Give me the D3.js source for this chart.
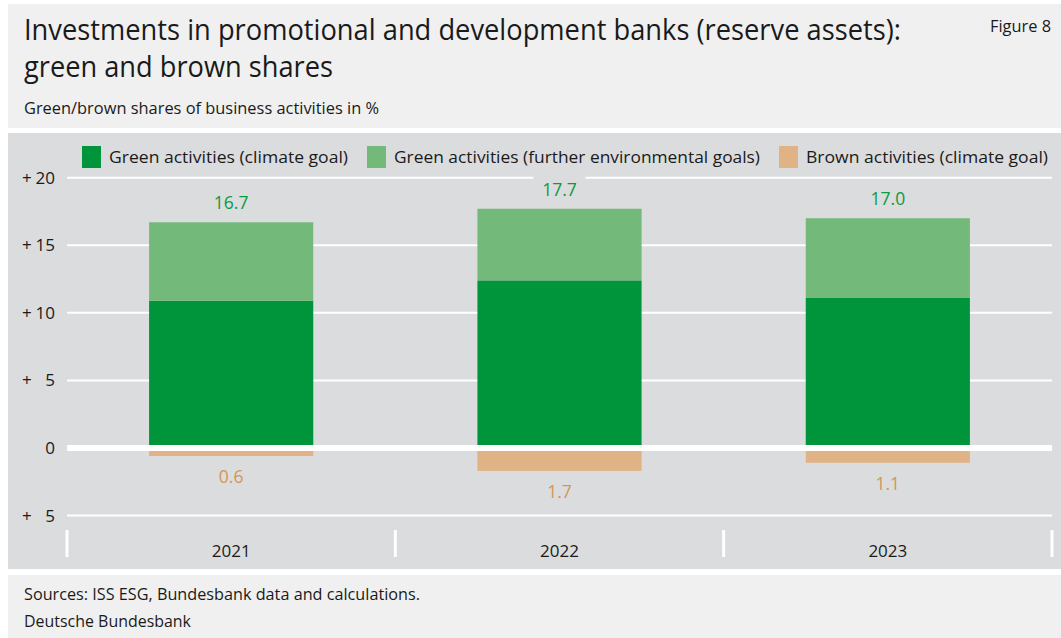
<!DOCTYPE html>
<html>
<head>
<meta charset="utf-8">
<script src="https://cdn.jsdelivr.net/npm/d3@7"></script>
<style>
  body { margin: 0; background: #fff; }
  svg text { font-family: "Open Sans", "Noto Sans", sans-serif; fill: #1a1a1a; }
</style>
</head>
<body>
<svg id="chart" width="1061" height="638"></svg>
<script>
// data
var years = ['2021', '2022', '2023'];
var greenClimate = [10.9, 12.4, 11.1];
var greenFurther = [5.8, 5.3, 5.9];
var greenTotal = [16.7, 17.7, 17.0];
var brownClimate = [0.6, 1.7, 1.1];
var yTicks = [20, 15, 10, 5, 0, -5];
var yTickLabels = ['20', '15', '10', '5', '0', '5'];
var legendLabels = ['Green activities (climate goal)', 'Green activities (further environmental goals)', 'Brown activities (climate goal)'];

var colors = {dark: '#00953a', light: '#72b97a', brown: '#e0b386', panel: '#dbdcde', box: '#f0f0f0',
              greenText: '#0b9a3e', brownText: '#d4955a'};

var svg = d3.select('#chart');

// background boxes
svg.append('rect').attr('x', 8).attr('y', 4).attr('width', 1053).attr('height', 124).attr('fill', colors.box);
svg.append('rect').attr('x', 8).attr('y', 133).attr('width', 1053).attr('height', 436).attr('fill', colors.panel);
svg.append('rect').attr('x', 8).attr('y', 575).attr('width', 1053).attr('height', 63).attr('fill', colors.box);

function fit(sel, w) {
    sel.attr('textLength', w).attr('lengthAdjust', 'spacingAndGlyphs');
    return sel;
}

// titles
fit(svg.append('text').attr('x', 24).attr('y', 40).style('font-size', '30px')
    .text('Investments in promotional and development banks (reserve assets):'), 877);
fit(svg.append('text').attr('x', 24).attr('y', 77).style('font-size', '30px')
    .text('green and brown shares'), 309);
fit(svg.append('text').attr('x', 1051).attr('y', 32).attr('text-anchor', 'end').style('font-size', '16px')
    .text('Figure 8'), 61);
fit(svg.append('text').attr('x', 24).attr('y', 114).style('font-size', '16px')
    .text('Green/brown shares of business activities in %'), 355);

// footer
fit(svg.append('text').attr('x', 24).attr('y', 600).style('font-size', '15.5px')
    .text('Sources: ISS ESG, Bundesbank data and calculations.'), 396);
fit(svg.append('text').attr('x', 24).attr('y', 627).style('font-size', '15.5px')
    .text('Deutsche Bundesbank'), 167);

// scales
var x = d3.scaleBand().domain(years).range([67, 1052]).padding(0);
var y = d3.scaleLinear().domain([-5, 20]).range([515.5, 177.7]);
var barW = x.bandwidth() / 2;

// gridlines
svg.append('g').selectAll('line')
    .data(yTicks.filter(function (d) { return d !== 0; }))
    .enter().append('line')
    .attr('x1', 67).attr('x2', 1052)
    .attr('y1', function (d) { return y(d); }).attr('y2', function (d) { return y(d); })
    .attr('stroke', '#fff').attr('stroke-width', 2);

// y tick labels
var yl = svg.append('g');
yTicks.forEach(function (d, i) {
    if (d !== 0) {
        yl.append('text').attr('x', 22).attr('y', y(d) + 6).style('font-size', '17px').text('+');
    }
    yl.append('text').attr('x', 55).attr('y', y(d) + 6).attr('text-anchor', 'end')
        .style('font-size', '17px').text(yTickLabels[i]);
});

// stacked green bars
var rows = years.map(function (yr, i) {
    return {year: yr, climate: greenClimate[i], further: greenFurther[i], total: greenTotal[i], brown: brownClimate[i]};
});
var stack = d3.stack().keys(['climate', 'further'])(rows);
var fills = {climate: colors.dark, further: colors.light};

svg.append('g').selectAll('g')
    .data(stack)
    .enter().append('g')
    .attr('fill', function (s) { return fills[s.key]; })
    .selectAll('rect')
    .data(function (s) { return s; })
    .enter().append('rect')
    .attr('x', function (d) { return x(d.data.year) + barW / 2; })
    .attr('width', barW)
    .attr('y', function (d) { return y(d[1]); })
    .attr('height', function (d) { return y(d[0]) - y(d[1]); });

// brown bars (negative)
svg.append('g').selectAll('rect')
    .data(rows)
    .enter().append('rect')
    .attr('fill', colors.brown)
    .attr('x', function (d) { return x(d.year) + barW / 2; })
    .attr('width', barW)
    .attr('y', y(0))
    .attr('height', function (d) { return y(-d.brown) - y(0); });

// zero line
svg.append('line').attr('x1', 67).attr('x2', 1052).attr('y1', y(0)).attr('y2', y(0))
    .attr('stroke', '#fff').attr('stroke-width', 6);

// total labels with background
var fmt = d3.format('.1f');
var tl = svg.append('g').selectAll('g').data(rows).enter().append('g');
tl.append('rect')
    .attr('x', function (d) { return x(d.year) + x.bandwidth() / 2 - 26; })
    .attr('y', function (d) { return y(d.total) - 35; })
    .attr('width', 52).attr('height', 28)
    .attr('fill', colors.panel);
tl.append('text')
    .attr('x', function (d) { return x(d.year) + x.bandwidth() / 2; })
    .attr('y', function (d) { return y(d.total) - 13; })
    .attr('text-anchor', 'middle')
    .style('font-size', '17.5px').style('font-weight', 500).style('fill', colors.greenText)
    .text(function (d) { return fmt(d.total); });

svg.append('g').selectAll('text').data(rows).enter().append('text')
    .attr('x', function (d) { return x(d.year) + x.bandwidth() / 2; })
    .attr('y', function (d) { return y(-d.brown) + 27; })
    .attr('text-anchor', 'middle')
    .style('font-size', '17.5px').style('font-weight', 500).style('fill', colors.brownText)
    .text(function (d) { return fmt(d.brown); });

// category separators and year labels
svg.append('g').selectAll('line')
    .data(years.concat(['end']))
    .enter().append('line')
    .attr('x1', function (d, i) { return 67 + i * x.bandwidth(); })
    .attr('x2', function (d, i) { return 67 + i * x.bandwidth(); })
    .attr('y1', 530).attr('y2', 557)
    .attr('stroke', '#fff').attr('stroke-width', 3);

svg.append('g').selectAll('text').data(years).enter().append('text')
    .attr('x', function (d) { return x(d) + x.bandwidth() / 2; })
    .attr('y', 557)
    .attr('text-anchor', 'middle')
    .style('font-size', '17px')
    .text(function (d) { return d; });

// legend
var legendX = [82, 367, 779];
var legendW = [239, 366, 242];
var legendColors = [colors.dark, colors.light, colors.brown];
var lg = svg.append('g');
legendLabels.forEach(function (lab, i) {
    lg.append('rect').attr('x', legendX[i]).attr('y', 146).attr('width', 19).attr('height', 22)
        .attr('fill', legendColors[i]);
    fit(lg.append('text').attr('x', legendX[i] + 27).attr('y', 163).style('font-size', '17px').text(lab), legendW[i]);
});
</script>
</body>
</html>
